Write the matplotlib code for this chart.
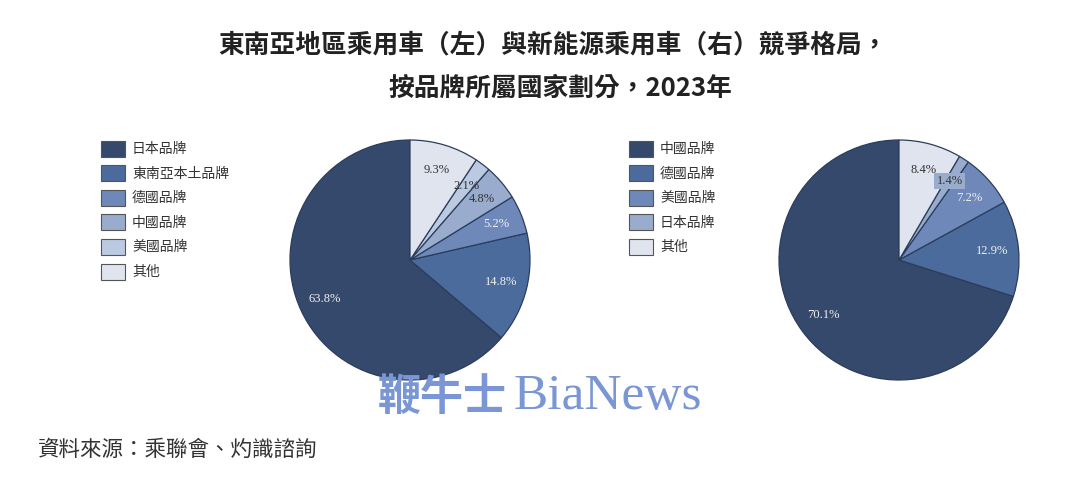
import matplotlib
matplotlib.use('Agg')
import matplotlib.pyplot as plt

plt.rcParams['font.family'] = ['Noto Sans CJK TC', 'DejaVu Sans']

# 數據
left_labels = ['日本品牌', '東南亞本土品牌', '德國品牌', '中國品牌', '美國品牌', '其他']
left_values = [63.8, 14.8, 5.2, 4.8, 2.1, 9.3]
left_colors = ['#34496b', '#4b6b9d', '#6d88b9', '#9aaccd', '#bccae1', '#dfe4ee']

right_labels = ['中國品牌', '德國品牌', '美國品牌', '日本品牌', '其他']
right_values = [70.1, 12.9, 7.2, 1.4, 8.4]
right_colors = ['#34496b', '#4b6b9d', '#6d88b9', '#9aaccd', '#dfe4ee']

W, H = 1080, 498
fig = plt.figure(figsize=(W / 100, H / 100), dpi=100)


def draw_pie(cx, cy, r, values, colors, text_colors, box_idx=None):
    ax = fig.add_axes([(cx - r) / W, (H - cy - r) / H, 2 * r / W, 2 * r / H])
    wedges, texts, autotexts = ax.pie(
        values, colors=colors, startangle=90, counterclock=True,
        autopct='%.1f%%', pctdistance=0.78,
        wedgeprops=dict(edgecolor='#2c3d5c', linewidth=0.9),
        textprops=dict(family=['Liberation Serif'], fontsize=9))
    for t, c in zip(autotexts, text_colors):
        t.set_color(c)
    if box_idx is not None:
        autotexts[box_idx].set_bbox(dict(facecolor='#9aaccd', edgecolor='none', pad=1.5))
    ax.set_xlim(-1, 1)
    ax.set_ylim(-1, 1)
    ax.set_aspect('equal')
    ax.axis('off')
    return ax


draw_pie(410, 260, 120, left_values, left_colors,
         ['#f0f0f0', '#f0f0f0', '#f0f0f0', '#333333', '#333333', '#333333'])
draw_pie(899, 260, 120, right_values, right_colors,
         ['#f0f0f0', '#f0f0f0', '#f0f0f0', '#333333', '#333333'], box_idx=3)


def draw_legend(x0, y0, labels, colors):
    for i, (lab, col) in enumerate(zip(labels, colors)):
        y = y0 + i * 24.5
        fig.patches.append(plt.Rectangle((x0 / W, (H - y - 8) / H), 24 / W, 16 / H,
                                         transform=fig.transFigure, facecolor=col,
                                         edgecolor='#555555', linewidth=0.8))
        fig.text((x0 + 31) / W, (H - y) / H, lab, fontsize=10, color='#333333',
                 va='center', ha='left')


draw_legend(101, 149, left_labels, left_colors)
draw_legend(629, 149, right_labels, right_colors)

# 標題
fig.text(553 / W, (H - 45) / H, '東南亞地區乘用車（左）與新能源乘用車（右）競爭格局，',
         fontsize=18.5, fontweight='bold', color='#222222', ha='center', va='center')
fig.text(560 / W, (H - 88) / H, '按品牌所屬國家劃分，2023年',
         fontsize=18.5, fontweight='bold', color='#222222', ha='center', va='center')

# 水印
fig.text(442 / W, (H - 397) / H, '鞭牛士', fontsize=31, fontweight='bold',
         color='#7a96d4', ha='center', va='center', zorder=10)
fig.text(608 / W, (H - 397) / H, 'BiaNews', fontsize=37, family=['Liberation Serif'],
         color='#7a96d4', ha='center', va='center', zorder=10)

# 資料來源
fig.text(38 / W, (H - 450) / H, '資料來源：乘聯會、灼識諮詢', fontsize=15.5,
         color='#333333', ha='left', va='center', style='italic')

fig.savefig('out.png', dpi=100, facecolor='white')
